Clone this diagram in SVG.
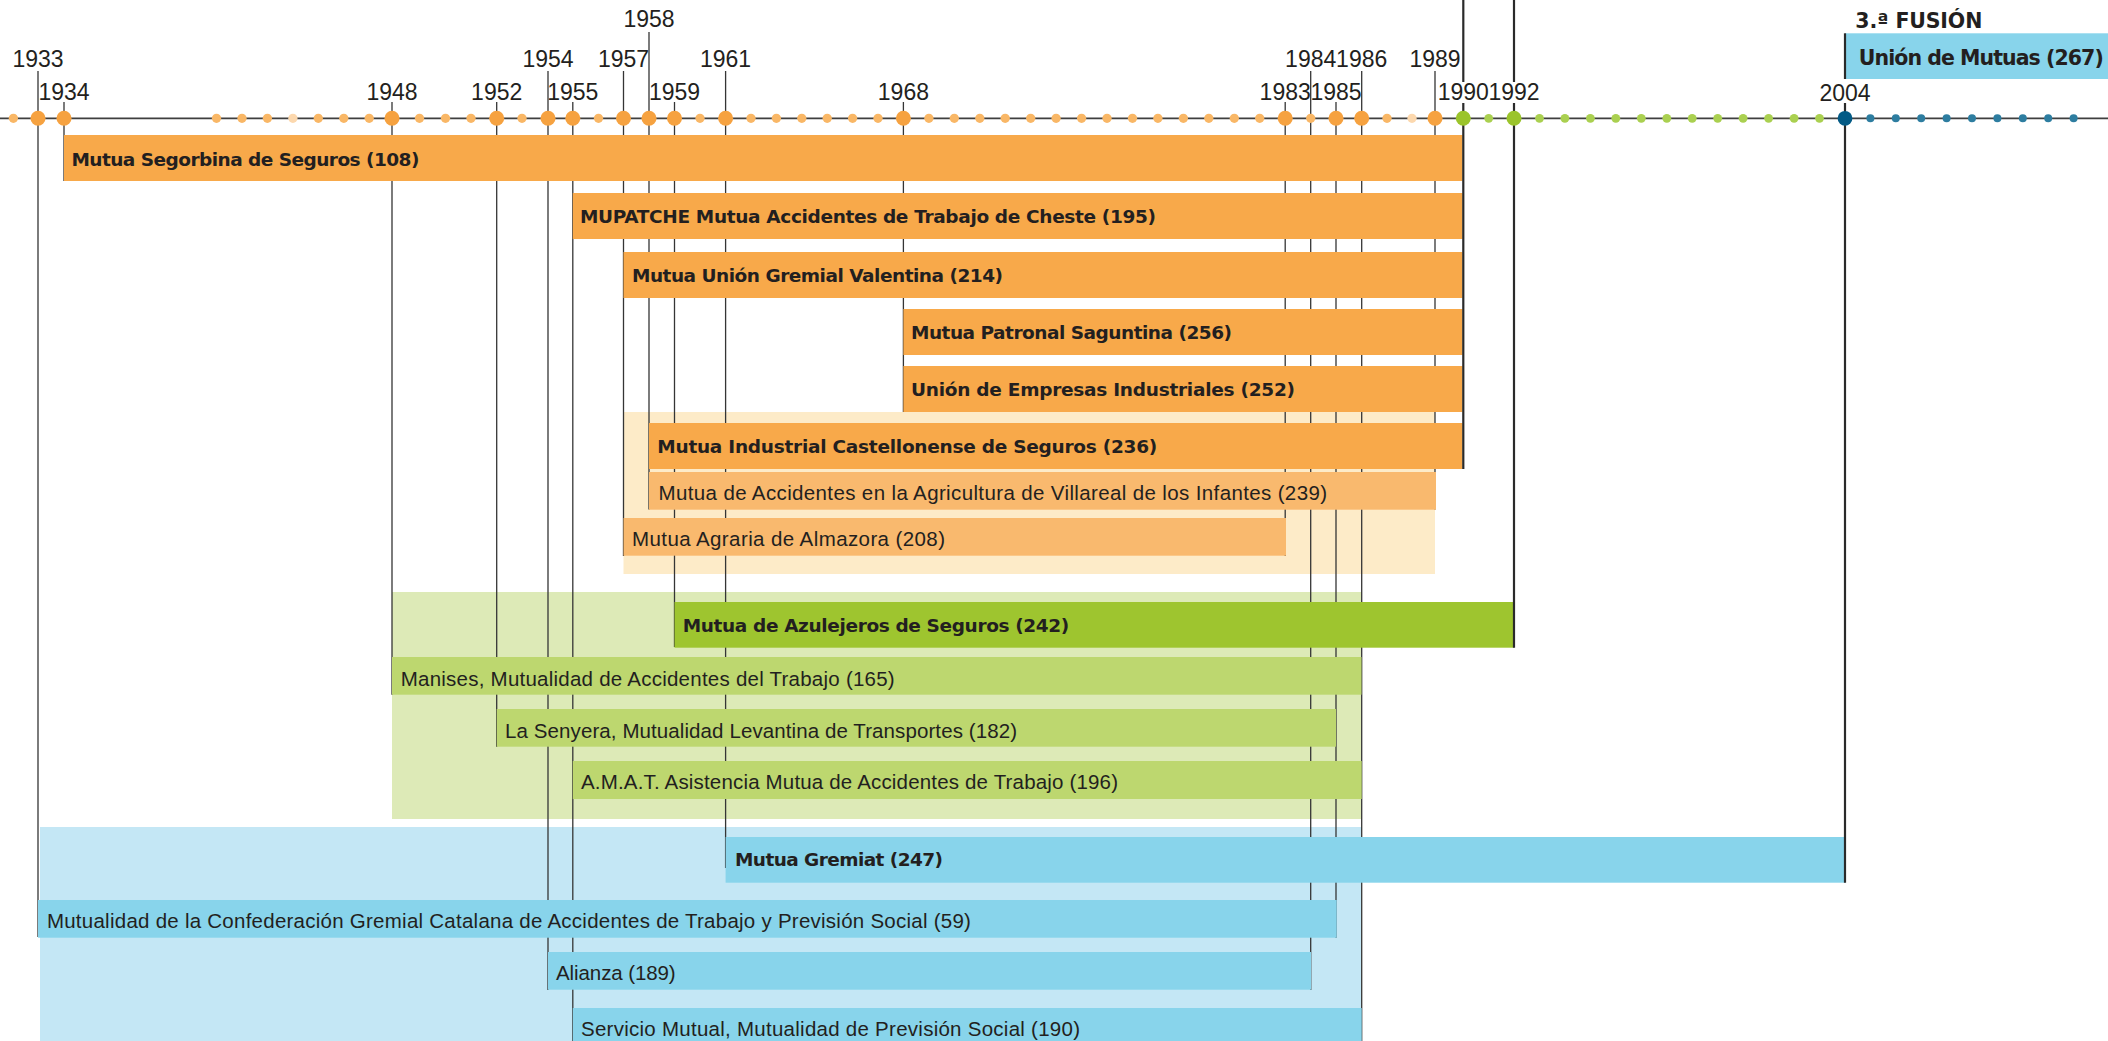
<svg xmlns="http://www.w3.org/2000/svg" width="2108" height="1041" viewBox="0 0 2108 1041">
<style>
.bg{stroke:none}
.o{fill:#F8A94A}.om{fill:#F9B96E}.obg{fill:#FDEBC8}
.g{fill:#9EC52F}.gm{fill:#BDD76F}.gbg{fill:#DDEAB7}
.b{fill:#88D4EB}.bbg{fill:#C4E7F5}
.tb{font-family:"DejaVu Sans",sans-serif;font-weight:bold;font-size:18.5px;fill:#231F20}
.tbl{font-family:"DejaVu Sans",sans-serif;font-weight:bold;font-size:20.5px;fill:#231F20}
.tr{font-family:"Liberation Sans",Arial,sans-serif;font-size:20.5px;fill:#231F20}
.yr{font-family:"Liberation Sans",Arial,sans-serif;font-size:23px;fill:#231F20;text-anchor:middle}
.ln{stroke:#353535;stroke-width:1.3;fill:none}
.fl{stroke:#2a2a2a;stroke-width:2.2;fill:none}
.axis{stroke:#3f3f3f;stroke-width:1.7}
.dOb{fill:#F6A240}.dOs{fill:#F9B766}.dOl{fill:#FCD8AE}
.dGb{fill:#9BC42B}.dGs{fill:#AAD050}
.dBb{fill:#035A85}.dBs{fill:#2D7DA0}
</style>

<!-- background groupings -->
<g id="backgrounds">
<rect class="obg" x="623.5" y="412" width="811.5" height="162"/>
<rect class="gbg" x="392" y="592" width="969.5" height="227"/>
<rect class="bbg" x="40" y="827" width="1321.7" height="214"/>
</g>

<!-- connectors: year lines -->
<g id="connectors">
<line class="ln" x1="38" y1="71" x2="38" y2="937"/>
<line class="ln" x1="64" y1="102" x2="64" y2="181"/>
<line class="ln" x1="392" y1="102" x2="392" y2="694.7"/>
<line class="ln" x1="496.7" y1="102" x2="496.7" y2="746.7"/>
<line class="ln" x1="548" y1="71" x2="548" y2="990"/>
<line class="ln" x1="572.8" y1="102" x2="572.8" y2="1041"/>
<line class="ln" x1="623.5" y1="71" x2="623.5" y2="556"/>
<line class="ln" x1="649" y1="32" x2="649" y2="509.5"/>
<line class="ln" x1="674.5" y1="102" x2="674.5" y2="647"/>
<line class="ln" x1="725.6" y1="71" x2="725.6" y2="868"/>
<line class="ln" x1="903.4" y1="102" x2="903.4" y2="412"/>
<line class="ln" x1="1285.2" y1="102" x2="1285.2" y2="556"/>
<line class="ln" x1="1310.7" y1="71" x2="1310.7" y2="990"/>
<line class="ln" x1="1336" y1="102" x2="1336" y2="937.7"/>
<line class="ln" x1="1361.7" y1="71" x2="1361.7" y2="1041"/>
<line class="ln" x1="1435" y1="71" x2="1435" y2="509.5"/>
</g>

<!-- nodes -->
<g id="n108"><rect class="o" x="64" y="135" width="1398.5" height="46"/><text class="tb" x="71.4" y="165.5" textLength="348">Mutua Segorbina de Seguros (108)</text></g>
<g id="n195"><rect class="o" x="572.8" y="193" width="889.7" height="46"/><text class="tb" x="580" y="223" textLength="576">MUPATCHE Mutua Accidentes de Trabajo de Cheste (195)</text></g>
<g id="n214"><rect class="o" x="623.5" y="252" width="839" height="46"/><text class="tb" x="632" y="282" textLength="371">Mutua Unión Gremial Valentina (214)</text></g>
<g id="n256"><rect class="o" x="903.4" y="309" width="559.1" height="46"/><text class="tb" x="911" y="339" textLength="321">Mutua Patronal Saguntina (256)</text></g>
<g id="n252"><rect class="o" x="903.4" y="366" width="559.1" height="46"/><text class="tb" x="911" y="396" textLength="384">Unión de Empresas Industriales (252)</text></g>
<g id="n236"><rect class="o" x="649" y="423" width="813.5" height="46"/><text class="tb" x="657.3" y="453" textLength="500">Mutua Industrial Castellonense de Seguros (236)</text></g>
<g id="n239"><rect class="om" x="649" y="472" width="787" height="37.7"/><text class="tr" x="658.5" y="500" textLength="668.5">Mutua de Accidentes en la Agricultura de Villareal de los Infantes (239)</text></g>
<g id="n208"><rect class="om" x="623.5" y="518" width="662.5" height="37.7"/><text class="tr" x="632" y="546" textLength="313">Mutua Agraria de Almazora (208)</text></g>
<g id="n242"><rect class="g" x="674.5" y="602" width="839.5" height="45.7"/><text class="tb" x="682.7" y="632" textLength="386.6">Mutua de Azulejeros de Seguros (242)</text></g>
<g id="n165"><rect class="gm" x="392" y="657" width="969.5" height="37.7"/><text class="tr" x="400.7" y="686" textLength="494">Manises, Mutualidad de Accidentes del Trabajo (165)</text></g>
<g id="n182"><rect class="gm" x="496.7" y="709" width="839.3" height="37.7"/><text class="tr" x="505" y="737.5" textLength="512">La Senyera, Mutualidad Levantina de Transportes (182)</text></g>
<g id="n196"><rect class="gm" x="572.8" y="761" width="788.9" height="38"/><text class="tr" x="581" y="789" textLength="537">A.M.A.T. Asistencia Mutua de Accidentes de Trabajo (196)</text></g>
<g id="n247"><rect class="b" x="725.6" y="837" width="1119.4" height="45.7"/><text class="tb" x="735" y="866" textLength="208">Mutua Gremiat (247)</text></g>
<g id="n59"><rect class="b" x="38" y="900" width="1298.7" height="37.7"/><text class="tr" x="46.9" y="928" textLength="924">Mutualidad de la Confederación Gremial Catalana de Accidentes de Trabajo y Previsión Social (59)</text></g>
<g id="n189"><rect class="b" x="548" y="952" width="763" height="37.7"/><text class="tr" x="556" y="980" textLength="119.7">Alianza (189)</text></g>
<g id="n190"><rect class="b" x="572.8" y="1008" width="788.9" height="38"/><text class="tr" x="581" y="1035.5" textLength="499">Servicio Mutual, Mutualidad de Previsión Social (190)</text></g>
<g id="n267"><rect class="b" x="1845" y="33.3" width="263" height="45.7"/><text class="tbl" x="1858.8" y="64.5" textLength="245">Unión de Mutuas (267)</text></g>
<g id="fusion3"><text class="tbl" x="1855.3" y="28.3" textLength="127">3.ª FUSIÓN</text></g>

<!-- fusion lines -->
<g id="fusion-lines">
<line class="fl" x1="1463.3" y1="0" x2="1463.3" y2="82"/>
<line class="fl" x1="1463.3" y1="103" x2="1463.3" y2="469"/>
<line class="fl" x1="1514" y1="0" x2="1514" y2="82"/>
<line class="fl" x1="1514" y1="103" x2="1514" y2="647.7"/>
<line class="fl" x1="1845" y1="33.3" x2="1845" y2="79"/>
<line class="fl" x1="1845" y1="103" x2="1845" y2="882.7"/>
</g>

<!-- timeline -->
<g id="timeline">
<line class="axis" x1="0" y1="118.3" x2="2108" y2="118.3"/>
<g id="dots-small-orange" class="dOs">
<circle cx="13.4" cy="118.3" r="4.6"/><circle cx="216.5" cy="118.3" r="4.6"/><circle cx="242" cy="118.3" r="4.6"/><circle cx="267.4" cy="118.3" r="4.6"/><circle cx="318.3" cy="118.3" r="4.6"/><circle cx="343.8" cy="118.3" r="4.6"/><circle cx="369.2" cy="118.3" r="4.6"/><circle cx="419.5" cy="118.3" r="4.6"/><circle cx="445.5" cy="118.3" r="4.6"/><circle cx="471" cy="118.3" r="4.6"/><circle cx="522" cy="118.3" r="4.6"/><circle cx="598.5" cy="118.3" r="4.6"/><circle cx="700" cy="118.3" r="4.6"/><circle cx="751" cy="118.3" r="4.6"/><circle cx="776.4" cy="118.3" r="4.6"/><circle cx="801.8" cy="118.3" r="4.6"/><circle cx="827.2" cy="118.3" r="4.6"/><circle cx="852.6" cy="118.3" r="4.6"/><circle cx="878" cy="118.3" r="4.6"/><circle cx="928.9" cy="118.3" r="4.6"/><circle cx="954.3" cy="118.3" r="4.6"/><circle cx="979.8" cy="118.3" r="4.6"/><circle cx="1005.2" cy="118.3" r="4.6"/><circle cx="1030.7" cy="118.3" r="4.6"/><circle cx="1056.1" cy="118.3" r="4.6"/><circle cx="1081.6" cy="118.3" r="4.6"/><circle cx="1107" cy="118.3" r="4.6"/><circle cx="1132.5" cy="118.3" r="4.6"/><circle cx="1157.9" cy="118.3" r="4.6"/><circle cx="1183.4" cy="118.3" r="4.6"/><circle cx="1208.8" cy="118.3" r="4.6"/><circle cx="1234.3" cy="118.3" r="4.6"/><circle cx="1259.7" cy="118.3" r="4.6"/><circle cx="1310.7" cy="118.3" r="4.6"/><circle cx="1387" cy="118.3" r="4.6"/>
</g>
<g class="dOl"><circle cx="292.9" cy="118.3" r="4.6"/><circle cx="1412" cy="118.3" r="4.6"/></g>
<g id="dots-big-orange" class="dOb">
<circle cx="38" cy="118.3" r="7.5"/><circle cx="64" cy="118.3" r="7.5"/><circle cx="392" cy="118.3" r="7.5"/><circle cx="496.7" cy="118.3" r="7.5"/><circle cx="548" cy="118.3" r="7.5"/><circle cx="572.8" cy="118.3" r="7.5"/><circle cx="623.5" cy="118.3" r="7.5"/><circle cx="649" cy="118.3" r="7.5"/><circle cx="674.5" cy="118.3" r="7.5"/><circle cx="725.6" cy="118.3" r="7.5"/><circle cx="903.4" cy="118.3" r="7.5"/><circle cx="1285.2" cy="118.3" r="7.5"/><circle cx="1336" cy="118.3" r="7.5"/><circle cx="1361.7" cy="118.3" r="7.5"/><circle cx="1435" cy="118.3" r="7.5"/>
</g>
<g class="dGb"><circle cx="1463.3" cy="118.3" r="7.5"/><circle cx="1514" cy="118.3" r="7.5"/></g>
<g class="dGs">
<circle cx="1488.7" cy="118.3" r="4.4"/><circle cx="1539.5" cy="118.3" r="4.4"/><circle cx="1564.9" cy="118.3" r="4.4"/><circle cx="1590.4" cy="118.3" r="4.4"/><circle cx="1615.8" cy="118.3" r="4.4"/><circle cx="1641.3" cy="118.3" r="4.4"/><circle cx="1666.8" cy="118.3" r="4.4"/><circle cx="1692.2" cy="118.3" r="4.4"/><circle cx="1717.7" cy="118.3" r="4.4"/><circle cx="1743.1" cy="118.3" r="4.4"/><circle cx="1768.6" cy="118.3" r="4.4"/><circle cx="1794.1" cy="118.3" r="4.4"/><circle cx="1819.5" cy="118.3" r="4.4"/>
</g>
<g class="dBb"><circle cx="1845" cy="118.3" r="7.4"/></g>
<g class="dBs">
<circle cx="1870.4" cy="118.3" r="4"/><circle cx="1895.8" cy="118.3" r="4"/><circle cx="1921.2" cy="118.3" r="4"/><circle cx="1946.6" cy="118.3" r="4"/><circle cx="1972" cy="118.3" r="4"/><circle cx="1997.4" cy="118.3" r="4"/><circle cx="2022.8" cy="118.3" r="4"/><circle cx="2048.2" cy="118.3" r="4"/><circle cx="2073.6" cy="118.3" r="4"/>
</g>
<g id="years">
<text class="yr" x="38" y="66.7">1933</text>
<text class="yr" x="64" y="99.5">1934</text>
<text class="yr" x="392" y="99.5">1948</text>
<text class="yr" x="496.7" y="99.5">1952</text>
<text class="yr" x="548" y="66.7">1954</text>
<text class="yr" x="572.8" y="99.5">1955</text>
<text class="yr" x="623.5" y="66.7">1957</text>
<text class="yr" x="649" y="26.5">1958</text>
<text class="yr" x="674.5" y="99.5">1959</text>
<text class="yr" x="725.6" y="66.7">1961</text>
<text class="yr" x="903.4" y="99.5">1968</text>
<text class="yr" x="1285.2" y="99.5">1983</text>
<text class="yr" x="1310.7" y="66.7">1984</text>
<text class="yr" x="1336" y="99.5">1985</text>
<text class="yr" x="1361.7" y="66.7">1986</text>
<text class="yr" x="1435" y="66.7">1989</text>
<text class="yr" x="1463.3" y="99.5">1990</text>
<text class="yr" x="1514" y="99.5">1992</text>
<text class="yr" x="1845" y="101">2004</text>
</g>
</g>
</svg>
